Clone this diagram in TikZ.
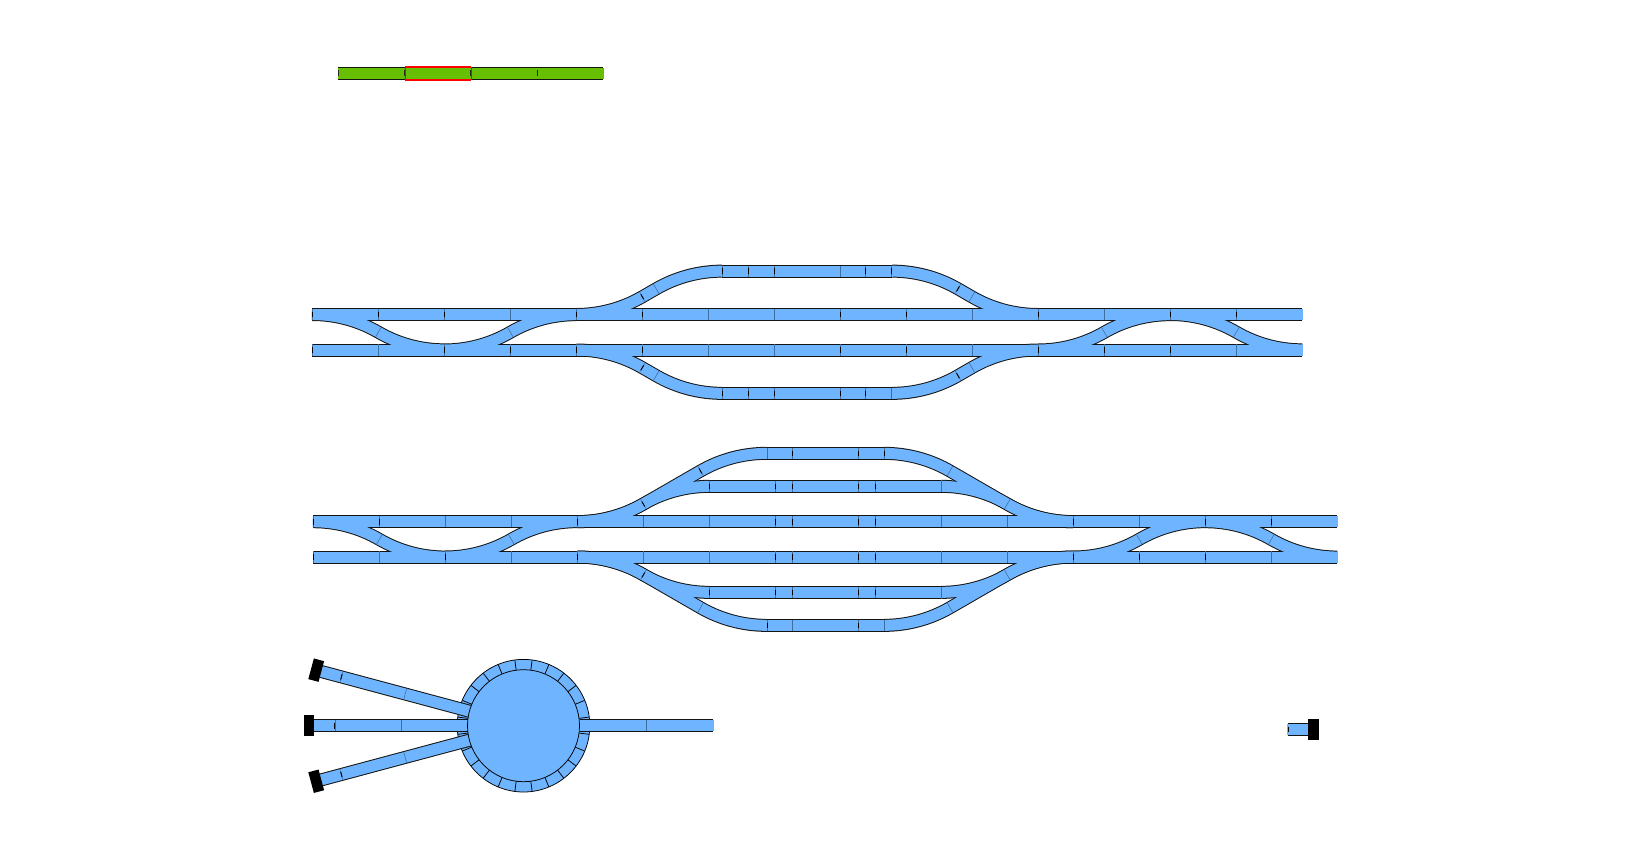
\documentclass[tikz,border=0pt]{standalone}
\definecolor{railblue}{HTML}{6EB4FF}
\definecolor{railgreen}{HTML}{66BF00}
\definecolor{jointline}{HTML}{3F6F9F}
\tikzset{
  every path/.style={line cap=butt},
  railedge/.style={line width=13pt,draw=black!92},
  railfill/.style={line width=11pt,draw=railblue,shorten <=-.6pt,shorten >=-.6pt},
  greenfill/.style={line width=11pt,draw=railgreen,shorten <=-.6pt,shorten >=-.6pt},
  jointthin/.style={line width=.55pt,draw=jointline},
  jointdark/.style={line width=.95pt,draw=black},
  bumper/.style={fill=black,draw=none},
  ringline/.style={draw=black,line width=.75pt}
}
% branch: arc, straight of length #5, arc
\newcommand\Br[6]{%
  \pgfmathsetmacro\ex{66+#5*.8660}\pgfmathsetmacro\ey{17.68+#5*.5}%
  \draw[#6,shift={(#1,#2)},xscale=#3,yscale=#4] (0,0) .. controls (23.17,0) and (45.93,6.1) .. (66,17.68) -- (\ex,\ey)
    .. controls (\ex+20.07,\ey+11.585) and (\ex+42.83,\ey+17.68) .. (\ex+66,\ey+17.68);}
\newcommand\St[4]{\draw[#4] (#1,#3) -- (#2,#3);}
\newcommand\tkT[3]{\draw[jointthin,shift={(#1,#2)},rotate=#3] (0,-5.6) -- (0,5.6);}
\newcommand\tkD[3]{\tkT{#1}{#2}{#3}\draw[jointdark,shift={(#1,#2)},rotate=#3] (0,-2.8) -- (0,2.8);}
% section A tracks
\newcommand\SecA[1]{%
  \St{312.3}{1302.3}{314.5}{#1}\St{312.3}{1302.3}{350}{#1}%
  \Br{312.3}{314.5}{1}{1}{0}{#1}\Br{444.3}{350}{1}{-1}{0}{#1}%
  \Br{576.3}{314.5}{1}{-1}{16}{#1}\St{722}{892}{271.14}{#1}\Br{892}{271.14}{1}{1}{16}{#1}%
  \Br{576.3}{350}{1}{1}{16}{#1}\St{722}{892}{393.36}{#1}\Br{892}{393.36}{1}{-1}{16}{#1}%
  \Br{1038.3}{350}{1}{-1}{0}{#1}\Br{1170.3}{314.5}{1}{1}{0}{#1}}
% section B tracks
\newcommand\SecB[1]{%
  \St{313.3}{1337.3}{521.7}{#1}\St{313.3}{1337.3}{557}{#1}%
  \Br{313.3}{521.7}{1}{1}{0}{#1}\Br{445.3}{557}{1}{-1}{0}{#1}%
  \Br{577.3}{521.7}{1}{-1}{66}{#1}\St{766.4}{884}{453.34}{#1}\Br{884}{453.34}{1}{1}{66}{#1}%
  \Br{577.3}{521.7}{1}{-1}{0}{#1}\St{709.3}{941.3}{486.34}{#1}\Br{941.3}{486.34}{1}{1}{0}{#1}%
  \Br{577.3}{557}{1}{1}{66}{#1}\St{766.4}{884}{625.36}{#1}\Br{884}{625.36}{1}{-1}{66}{#1}%
  \Br{577.3}{557}{1}{1}{0}{#1}\St{709.3}{941.3}{592.36}{#1}\Br{941.3}{592.36}{1}{-1}{0}{#1}%
  \Br{1073.3}{557}{1}{-1}{0}{#1}\Br{1205.3}{521.7}{1}{1}{0}{#1}}
% turntable spurs
\newcommand\Spur[3]{\draw[#3,shift={(523.5,725.7)},rotate=#1] (56,0) -- (#2,0);}
\newcommand\Spurs[1]{\Spur{165}{209.5}{#1}\Spur{180}{209.5}{#1}\Spur{195}{209.5}{#1}\Spur{0}{189.5}{#1}}
\begin{document}
\begin{tikzpicture}[x=1pt,y=-1pt]
\useasboundingbox (0,0) rectangle (1650,848);
% top green bar
\St{338.3}{603.3}{73.3}{railedge}\St{338.3}{603.3}{73.3}{greenfill}
\draw[red,line width=.5pt] (404.8,67) -- (404.8,80) (471,67) -- (471,80);
\draw[red,line width=2pt] (404.6,67) -- (471.2,67) (404.6,80) -- (471.2,80);
\foreach \x in {338.3,404.6,470.8,537.1}{\draw[jointdark,black!85] (\x,70.5) -- (\x,76.1);}
% section A
\SecA{railedge}\SecA{railfill}
\foreach \x in {312.3,378.3,444.3,576.3,642.3,840.3,906.3,1038.3,1170.3,1236.3}{\tkD{\x}{314.5}{0}}
\foreach \x in {510.3,708.3,774.3,972.3,1104.3}{\tkT{\x}{314.5}{0}}
\foreach \x in {312.3,444.3,510.3,576.3,642.3,840.3,906.3,1038.3,1104.3,1170.3}{\tkD{\x}{350}{0}}
\foreach \x in {378.3,708.3,774.3,972.3,1236.3}{\tkT{\x}{350}{0}}
\foreach \x in {722.7,748.3,774,865.7,891.7}{\tkD{\x}{271.14}{0}}
\tkT{840.3}{271.14}{0}
\foreach \x in {722.7,748.3,774,840.3,865.7}{\tkD{\x}{393.36}{0}}
\tkT{891.7}{393.36}{0}
\tkT{378.3}{332.2}{-30}\tkT{510.3}{332.2}{30}\tkT{1104.3}{332.2}{30}\tkT{1236.3}{332.2}{-30}
\tkD{642.3}{296.8}{30}\tkT{656.2}{288.8}{30}\tkD{958}{288.8}{-30}\tkT{971.9}{296.8}{-30}
\tkD{642.3}{367.7}{-30}\tkT{656.2}{375.7}{-30}\tkD{958}{375.7}{30}\tkT{971.9}{367.7}{30}
% section B
\SecB{railedge}\SecB{railfill}
\foreach \x in {313.3,379.3,577.3,775.5,792.3,858.3,875.3,1073.3,1205.3,1271.3}{\tkD{\x}{521.7}{0}}
\foreach \x in {445.3,511.3,643.3,709.3,941.3,1007.3,1139.3}{\tkT{\x}{521.7}{0}}
\foreach \x in {313.3,445.3,577.3,775.5,792.3,858.3,875.3,1073.3,1139.3,1205.3}{\tkD{\x}{557}{0}}
\foreach \x in {379.3,511.3,643.3,709.3,941.3,1007.3,1271.3}{\tkT{\x}{557}{0}}
\foreach \x in {792.7,858.7,884}{\tkD{\x}{453.34}{0}}
\tkT{767}{453.34}{0}
\foreach \x in {709.3,775.5,792.3,858.3,875.3}{\tkD{\x}{486.34}{0}\tkD{\x}{592.36}{0}}
\tkT{941.3}{486.34}{0}\tkT{941.3}{592.36}{0}
\foreach \x in {767,858.7}{\tkD{\x}{625.36}{0}}
\tkT{792.7}{625.36}{0}\tkT{884}{625.36}{0}
\tkT{379.3}{539.4}{-30}\tkT{511.3}{539.4}{30}\tkT{1139.3}{539.4}{30}\tkT{1271.3}{539.4}{-30}
\tkD{643.3}{504}{30}\tkD{700.5}{471}{30}\tkT{950}{471}{-30}\tkT{1007.3}{504}{-30}
\tkD{643.3}{575}{-30}\tkT{700.5}{607.7}{-30}\tkT{950}{607.7}{30}\tkT{1007.3}{575}{30}
% turntable
\path[fill=railblue,ringline] (523.5,725.7) circle[radius=66.3];
\foreach \a in {7.5,22.5,...,352.5}{\draw[ringline,shift={(523.5,725.7)},rotate=\a] (56,0) -- (66,0);}
\Spurs{railedge}\Spurs{railfill}
\foreach \a in {165,180,195}{\path[bumper,shift={(523.5,725.7)},rotate=\a] (209.3,-10.7) rectangle (219.9,10.7);}
\tkD{334.9}{725.7}{0}\tkT{401}{725.7}{0}\tkT{645.8}{725.7}{0}
\tkD{341.4}{676.9}{-15}\tkT{405.2}{694}{-15}\tkD{341.4}{774.5}{15}\tkT{405.2}{757.4}{15}
\path[fill=railblue,ringline] (523.5,725.7) circle[radius=56];
% small spur
\St{1288}{1308.5}{729.5}{railedge}\St{1288}{1308.5}{729.5}{railfill}
\draw[jointdark] (1288,726.7) -- (1288,732.3);
\path[bumper] (1308.3,718.8) rectangle (1319.3,740.2);
\end{tikzpicture}
\end{document}
